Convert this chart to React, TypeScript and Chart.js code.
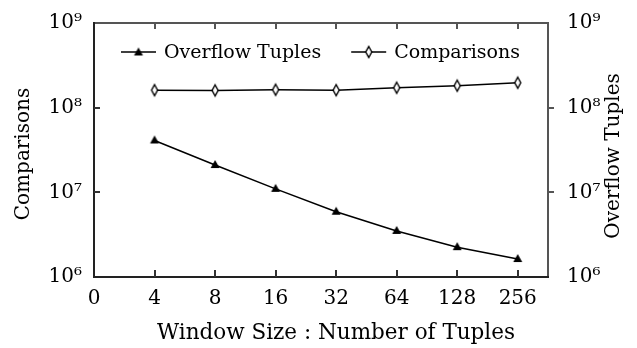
import React, { useEffect, useRef } from "react";
import { Chart, registerables } from "chart.js";

Chart.register(...registerables);

// ---- data ----
const xTickLabels = ["0", "4", "8", "16", "32", "64", "128", "256"];
const xPositions = [1, 2, 3, 4, 5, 6, 7];
const overflowTuples = [4.1e7, 2.1e7, 1.1e7, 5.9e6, 3.5e6, 2.25e6, 1.63e6];
const comparisons = [1.61e8, 1.6e8, 1.63e8, 1.61e8, 1.72e8, 1.82e8, 1.97e8];
const yTickValues = [1e6, 1e7, 1e8, 1e9];
const yTickLabels = ["10⁶", "10⁷", "10⁸", "10⁹"];
const seriesNames = ["Overflow Tuples", "Comparisons"];
const xTitle = "Window Size : Number of Tuples";
const yLeftTitle = "Comparisons";
const yRightTitle = "Overflow Tuples";

const FAMILY = "'DejaVu Serif', serif";
const FONT_SIZE = 20;

function makeDiamond(): HTMLCanvasElement {
  const c = document.createElement("canvas");
  c.width = 12;
  c.height = 16;
  const ctx = c.getContext("2d")!;
  ctx.beginPath();
  ctx.moveTo(6, 2.5);
  ctx.lineTo(9, 8);
  ctx.lineTo(6, 13.5);
  ctx.lineTo(3, 8);
  ctx.closePath();
  ctx.fillStyle = "#fff";
  ctx.fill();
  ctx.lineWidth = 1.4;
  ctx.strokeStyle = "#000";
  ctx.stroke();
  return c;
}

function makeTriangle(): HTMLCanvasElement {
  const c = document.createElement("canvas");
  c.width = 12;
  c.height = 12;
  const ctx = c.getContext("2d")!;
  ctx.beginPath();
  ctx.moveTo(6, 1);
  ctx.lineTo(10.5, 9);
  ctx.lineTo(1.5, 9);
  ctx.closePath();
  ctx.fillStyle = "#000";
  ctx.fill();
  return c;
}

const decorPlugin = {
  id: "decor",
  afterDraw(chart: any, _args: any, opts: any) {
    const { ctx, chartArea } = chart;
    const left = Math.round(chartArea.left);
    const right = Math.round(chartArea.right);
    const top = Math.round(chartArea.top);
    const bottom = Math.round(chartArea.bottom);
    const xs = chart.scales.x;
    const yl = chart.scales.yLeft;
    ctx.save();
    ctx.setLineDash([]);
    // frame (2px lines)
    ctx.fillStyle = "#555";
    ctx.fillRect(left, top - 1, right - left + 1, 2);
    ctx.fillRect(right - 1, top - 1, 2, bottom - top + 2);
    ctx.fillStyle = "#222";
    ctx.fillRect(left - 1, top - 1, 2, bottom - top + 2);
    ctx.fillRect(left - 1, bottom - 1, right - left + 2, 2);
    // x tick marks (top and bottom, inward)
    for (let i = 1; i < xTickLabels.length; i++) {
      const px = Math.round(xs.getPixelForValue(i));
      ctx.fillStyle = "#333";
      ctx.fillRect(px - 1, bottom - 7, 2, 7);
      ctx.fillStyle = "#555";
      ctx.fillRect(px - 1, top, 2, 6);
    }
    // y tick marks: left inward, right outward
    for (const v of yTickValues) {
      const py = Math.round(yl.getPixelForValue(v));
      if (py <= top + 1 || py >= bottom - 1) continue;
      ctx.fillStyle = "#333";
      ctx.fillRect(left, py - 1, 6, 2);
      ctx.fillStyle = "#555";
      ctx.fillRect(right, py - 1, 6, 2);
    }
    // titles
    ctx.fillStyle = "#000";
    ctx.textAlign = "center";
    ctx.textBaseline = "middle";
    ctx.font = `21.5px ${FAMILY}`;
    ctx.fillText(xTitle, 336, 333);
    ctx.font = `${FONT_SIZE}px ${FAMILY}`;
    ctx.save();
    ctx.translate(24, 154);
    ctx.rotate(-Math.PI / 2);
    ctx.fillText(yLeftTitle, 0, 0);
    ctx.restore();
    ctx.save();
    ctx.translate(614, 156);
    ctx.rotate(-Math.PI / 2);
    ctx.fillText(yRightTitle, 0, 0);
    ctx.restore();

    // legend
    const markers = opts.markers as HTMLCanvasElement[];
    ctx.font = `${FONT_SIZE - 1}px ${FAMILY}`;
    const lineLen = 35;
    const gapText = 8;
    const gapItems = 30;
    const widths = seriesNames.map((n) => ctx.measureText(n).width);
    const total = widths.reduce((a, w) => a + lineLen + gapText + w, 0) + gapItems * (seriesNames.length - 1);
    let x = Math.round((left + right) / 2 - total / 2);
    const ly = top + 29;
    ctx.textAlign = "left";
    seriesNames.forEach((name, i) => {
      ctx.fillStyle = "#000";
      ctx.fillRect(x, ly - 0.75, lineLen, 1.5);
      const m = markers[i];
      ctx.drawImage(m, x + lineLen / 2 - m.width / 2, ly - m.height / 2 + (i === 0 ? 0.5 : 0));
      ctx.fillStyle = "#000";
      ctx.fillText(name, x + lineLen + gapText, ly + 1);
      x += lineLen + gapText + widths[i] + gapItems;
    });
    ctx.restore();
  },
};

export default function App() {
  const ref = useRef<HTMLCanvasElement>(null);
  useEffect(() => {
    if (!ref.current) return;
    const tri = makeTriangle();
    const dia = makeDiamond();
    const font = { family: FAMILY, size: FONT_SIZE };
    const chart = new Chart(ref.current, {
      type: "line",
      data: {
        datasets: [
          {
            label: seriesNames[0],
            data: xPositions.map((x, i) => ({ x, y: overflowTuples[i] })),
            yAxisID: "yRight",
            borderColor: "#000",
            borderWidth: 1.5,
            pointStyle: tri as any,
            pointRadius: 5,
          },
          {
            label: seriesNames[1],
            data: xPositions.map((x, i) => ({ x, y: comparisons[i] })),
            yAxisID: "yLeft",
            borderColor: "#000",
            borderWidth: 1.5,
            pointStyle: dia as any,
            pointRadius: 5,
          },
        ],
      },
      options: {
        responsive: false,
        animation: false,
        layout: { padding: { top: 23, left: 0, right: 0, bottom: 0 } },
        plugins: {
          legend: { display: false },
          tooltip: { enabled: false },
          decor: { markers: [tri, dia] },
        } as any,
        scales: {
          x: {
            type: "linear",
            min: 0,
            max: 7.5,
            grid: { display: false },
            border: { display: false },
            afterBuildTicks: (s: any) => {
              s.ticks = xTickLabels.map((_, i) => ({ value: i }));
            },
            afterFit: (s: any) => {
              s.height = 71;
            },
            ticks: {
              font,
              color: "#000",
              padding: 2,
              maxRotation: 0,
              autoSkip: false,
              callback: (v: any) => xTickLabels[Math.round(Number(v))] ?? "",
            },
          },
          yLeft: {
            type: "logarithmic",
            position: "left",
            min: 1e6,
            max: 1e9,
            grid: { display: false },
            border: { display: false },
            afterBuildTicks: (s: any) => {
              s.ticks = yTickValues.map((v) => ({ value: v }));
            },
            afterFit: (s: any) => {
              s.width = 94;
            },
            ticks: {
              font,
              color: "#000",
              padding: 4,
              autoSkip: false,
              callback: (v: any) => yTickLabels[yTickValues.indexOf(Number(v))] ?? "",
            },
          },
          yRight: {
            type: "logarithmic",
            position: "right",
            min: 1e6,
            max: 1e9,
            grid: { display: false },
            border: { display: false },
            afterBuildTicks: (s: any) => {
              s.ticks = yTickValues.map((v) => ({ value: v }));
            },
            afterFit: (s: any) => {
              s.width = 89;
            },
            ticks: {
              font,
              color: "#000",
              padding: 11,
              autoSkip: false,
              callback: (v: any) => yTickLabels[yTickValues.indexOf(Number(v))] ?? "",
            },
          },
        },
      },
      plugins: [decorPlugin],
    } as any);
    return () => chart.destroy();
  }, []);
  return (
    <div style={{ position: "absolute", left: 0, top: 0, width: 637, height: 348, background: "#fff" }}>
      <canvas ref={ref} width={637} height={348} />
    </div>
  );
}
